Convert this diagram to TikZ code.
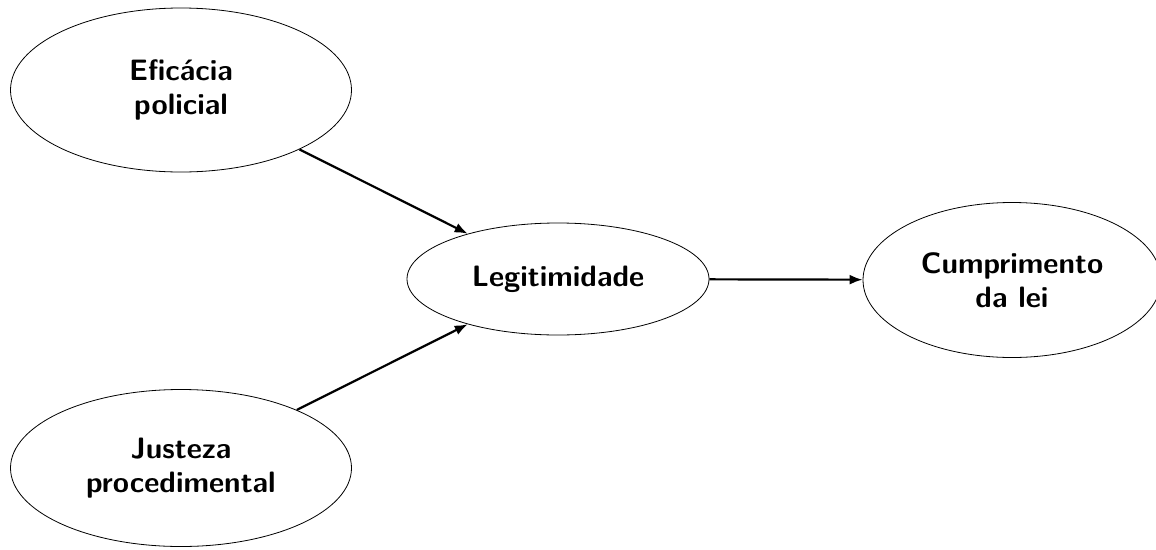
\documentclass[tikz,border=0pt]{standalone}
\usepackage{fontspec}
\usetikzlibrary{shapes.geometric,arrows.meta}
\begin{document}
\begin{tikzpicture}[x=1pt,y=-1pt,
  oval/.style={ellipse,draw=black,line width=0.8pt,inner sep=0pt,align=center,
    font=\sffamily\bfseries\fontsize{29.5}{34}\selectfont},
  conn/.style={line width=2.2pt,-{Latex[length=13pt,width=10pt]}}]
\useasboundingbox (0,0) rectangle (1156,549);
\node[oval,minimum width=341pt,minimum height=164pt] (ef) at (181,90) {Eficácia\\policial};
\node[oval,minimum width=341pt,minimum height=157pt] (ju) at (181,468) {Justeza\\procedimental};
\node[oval,minimum width=302pt,minimum height=112pt] (le) at (558,279) {Legitimidade};
\node[oval,minimum width=298pt,minimum height=155pt] (cu) at (1012,280) {Cumprimento\\da lei};
\draw[conn] (ef) -- (le);
\draw[conn] (ju) -- (le);
\draw[conn] (le) -- (cu);
\end{tikzpicture}
\end{document}
